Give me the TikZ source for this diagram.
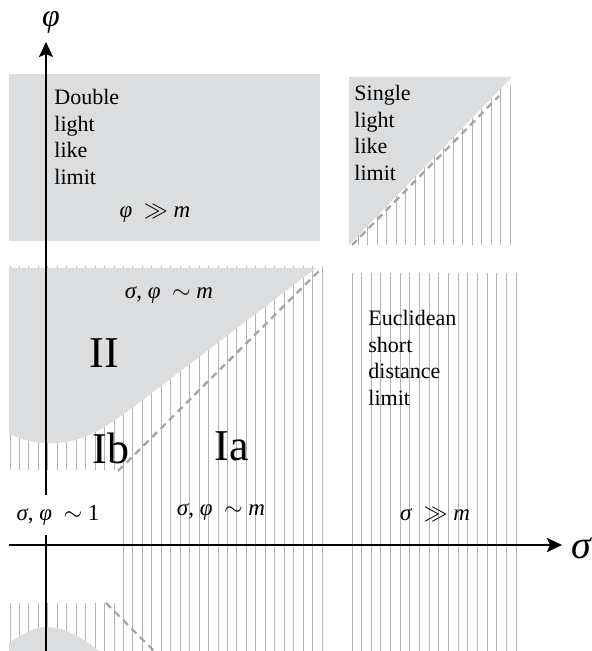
\documentclass[tikz,border=0pt]{standalone}
\usepackage[no-math]{fontspec}
\setmainfont{Liberation Serif}
\usetikzlibrary{arrows.meta}
\definecolor{ink}{HTML}{000000}
\definecolor{shade}{HTML}{DCDDDF}
\definecolor{hatch}{HTML}{B4B4B4}
\definecolor{dashc}{HTML}{A6A6A6}
\newcommand{\gsig}{\textit{σ}}
\newcommand{\gphi}{\textit{φ}}
\newcommand{\gm}{\textit{m}}
\tikzset{
  region/.style={fill=shade,draw=none},
  hline/.style={draw=hatch,line width=.5pt},
  lightcone/.style={draw=dashc,line width=1.2pt,dash pattern=on 3.5pt off 2.5pt},
  axis/.style={draw=ink,line width=1.1pt,-{Stealth[length=7.5pt,width=7pt,inset=1.5pt]}},
  words/.style={font=\fontsize{11}{13.3}\selectfont,align=left,inner sep=0pt,anchor=north west},
  formula/.style={font=\fontsize{11.5}{13}\selectfont,inner sep=0pt},
  roman/.style={font=\fontsize{22}{24}\selectfont,inner sep=0pt,anchor=base},
}

\begin{document}
\begin{tikzpicture}[x=.5pt,y=-.5pt]
  \useasboundingbox (0,0) rectangle (592,651);
  % ── hatching ──
  \foreach \k in {0,...,11} {
    \draw[hline] ({10+9.455*\k},266) -- ++(0,204);
    \draw[hline] ({10+9.455*\k},603) -- ++(0,48);
  }
  \foreach \k in {12,...,33} \draw[hline] ({10+9.455*\k},266) -- ++(0,385);
  \foreach \k in {0,...,17} \draw[hline] ({352+9.65*\k},273) -- ++(0,378);
  \foreach \k in {0,...,16} \draw[hline] ({358+9.5*\k},86) -- ++(0,159);
  % ── grey regions ──
  \fill[region] (9,74) rectangle (320,241);
  \fill[region] (349,77) -- (512,77) -- (349,245) -- cycle;
  \fill[region] (9,268) -- (316,268) -- (140,402)
    .. controls (100,433) and (80,443) .. (50,443)
    .. controls (30,443) and (16,438) .. (9,433) -- cycle;
  \fill[region] (9,643) .. controls (24,633) and (34,627) .. (47,627)
    .. controls (66,627) and (84,639) .. (99,651) -- (9,651) -- cycle;
  % ── light cone edges ──
  \coordinate (c1a) at (352,245); \coordinate (c1b) at (499,96);
  \coordinate (c2a) at (118,471); \coordinate (c2b) at (321,269);
  \coordinate (c3a) at (106,603); \coordinate (c3b) at (154,651);
  \draw[lightcone] (c1a) -- (c1b);
  \draw[lightcone] (c2a) -- (c2b);
  \draw[lightcone] (c3a) -- (c3b);
  % ── axes ──
  \coordinate (ylo) at (46,651); \coordinate (yhi) at (46,42);
  \coordinate (xlo) at (9,545);  \coordinate (xhi) at (562,545);
  \draw[axis] (ylo) -- (yhi);
  \draw[axis] (xlo) -- (xhi);
  \node[font=\fontsize{16}{18}\selectfont,inner sep=0pt] (phiax) at (51,22) {\gphi};
  \node[font=\fontsize{20}{22}\selectfont,inner sep=0pt] (sigax) at (582,548) {\gsig};
  % ── labels ──
  \node[words] (dbl) at (54,89) {Double\\light\\like\\limit};
  \node[words] (sgl) at (354,85) {Single\\light\\like\\limit};
  \node[words] (eucl) at (368,310) {Euclidean\\short\\distance\\limit};
  \node[formula] (phigg) at (155,213) {\gphi\ \ $\gg$ \gm};
  \node[formula] (simup) at (169,295) {\gsig, \gphi\ \ $\sim$ \gm};
  \node[formula] (simlo) at (221,512) {\gsig, \gphi\ \ $\sim$ \gm};
  \node[formula] (siggg) at (435,514) {\gsig\ \ $\gg$ \gm};
  \node[formula,fill=white,inner xsep=1pt,inner ysep=5pt] (simone) at (58,515) {\gsig, \gphi\ \ $\sim$ 1};
  \node[roman,anchor=center] (two) at (104,353) {II};
  \node[roman] (ib) at (111,463) {Ib};
  \node[roman] (ia) at (232,460) {Ia};
\end{tikzpicture}
\end{document}
